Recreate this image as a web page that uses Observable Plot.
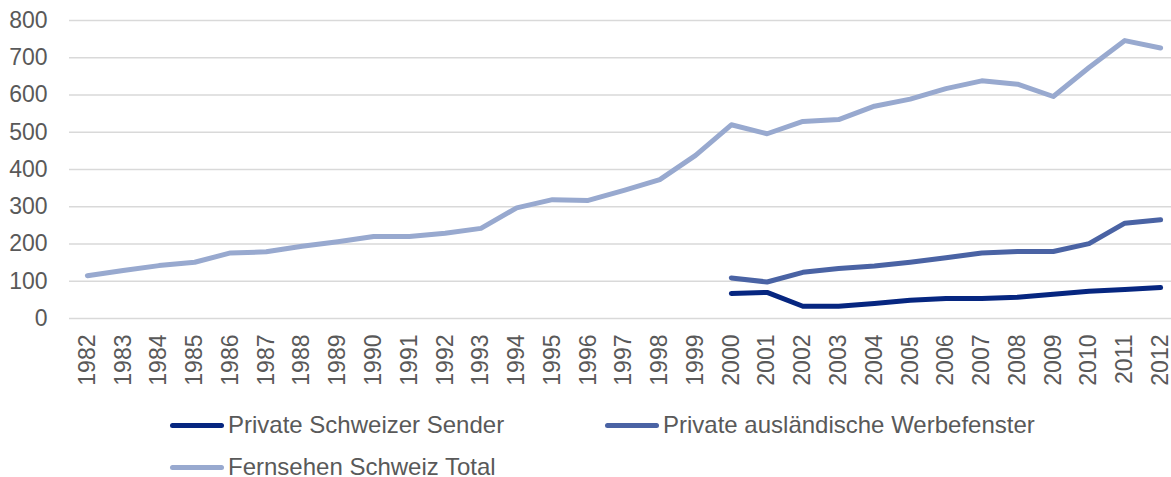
<!DOCTYPE html>
<html><head><meta charset="utf-8">
<script src="https://cdn.jsdelivr.net/npm/d3@7"></script>
<script src="https://cdn.jsdelivr.net/npm/@observablehq/plot@0.6"></script>
<style>
html,body{margin:0;padding:0;background:#fff;overflow:hidden;}
body{font-family:"Liberation Sans",Arial,sans-serif;color:#595959;}
#legend{margin-top:23px;padding-left:170px;width:900px;display:flex;flex-wrap:wrap;row-gap:18px;font-size:24px;line-height:24px;}
.item{width:435px;height:24px;display:flex;align-items:center;white-space:nowrap;}
.sw{width:54px;height:5px;border-radius:3px;margin-right:4px;flex:none;}
</style></head><body>
<div id="chart"></div>
<div id="legend"></div>
<script>
const years = [1982,1983,1984,1985,1986,1987,1988,1989,1990,1991,1992,1993,1994,1995,1996,1997,1998,1999,2000,2001,2002,2003,2004,2005,2006,2007,2008,2009,2010,2011,2012];
const yTicks = [0,100,200,300,400,500,600,700,800];
const seriesNames = ["Private Schweizer Sender","Private ausländische Werbefenster","Fernsehen Schweiz Total"];
const colors = ["#062680","#4a63a4","#98a9cf"];
const totalValues = [115,129,142,151,176,179,194,206,220,220,229,242,297,319,317,344,373,438,520,496,529,534,570,589,617,638,629,596,674,746,726];
const privateYears = [2000,2001,2002,2003,2004,2005,2006,2007,2008,2009,2010,2011,2012];
const foreignValues = [109,98,124,134,141,151,163,176,180,180,201,256,265];
const swissValues = [67,70,33,33,40,49,54,54,57,65,73,78,83];

const rows = [];
privateYears.forEach((y,i)=>rows.push({year:y,value:swissValues[i],series:seriesNames[0]}));
privateYears.forEach((y,i)=>rows.push({year:y,value:foreignValues[i],series:seriesNames[1]}));
years.forEach((y,i)=>rows.push({year:y,value:totalValues[i],series:seriesNames[2]}));

const chart = Plot.plot({
  width:1171, height:390,
  marginTop:20, marginBottom:72, marginLeft:69, marginRight:0,
  style:{fontFamily:"'Liberation Sans', Arial, sans-serif", fontSize:"23px", color:"#595959", background:"#fff"},
  x:{type:"point", domain:years, padding:0.5, round:false, range:[69,1178], axis:null},
  y:{domain:[0,800], axis:null},
  color:{domain:seriesNames, range:colors},
  marks:[
    Plot.ruleY(yTicks,{stroke:"#d9d9d9",strokeWidth:1.5}),
    Plot.axisY({ticks:yTicks, tickSize:0, tickPadding:22, fontSize:23, label:null}),
    Plot.axisX({tickSize:0, tickPadding:16, tickRotate:-90, fontSize:23, label:null, tickFormat:d=>String(d)}),
    Plot.line(rows,{x:"year",y:"value",z:"series",stroke:"series",strokeWidth:5,strokeLinejoin:"round",strokeLinecap:"round"})
  ]
});
document.getElementById("chart").appendChild(chart);

const leg = document.getElementById("legend");
seriesNames.forEach((n,i)=>{
  const it = document.createElement("div"); it.className="item";
  const sw = document.createElement("span"); sw.className="sw"; sw.style.background=colors[i];
  const tx = document.createElement("span"); tx.textContent=n;
  it.appendChild(sw); it.appendChild(tx); leg.appendChild(it);
});
</script>
</body></html>
